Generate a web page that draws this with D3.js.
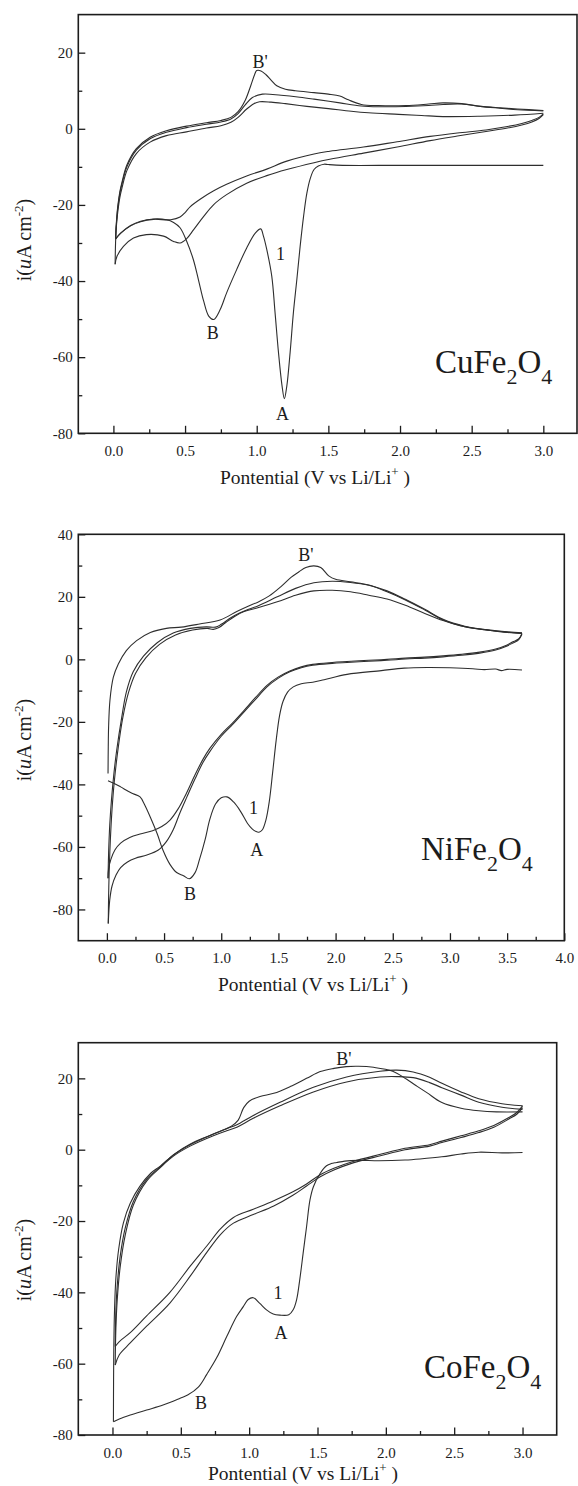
<!DOCTYPE html>
<html><head><meta charset="utf-8">
<script src="https://cdn.jsdelivr.net/npm/d3@7"></script>
<style>body{margin:0;background:#fff}svg{display:block}</style>
</head><body>
<svg id="chart" width="578" height="1486"></svg>
<script>
// ---------------- DATA (potential V vs Li/Li+, current uA cm-2) ----------------
// Tick values
const xTicksCu = [0, 0.5, 1.0, 1.5, 2.0, 2.5, 3.0];
const xTicksNi = [0, 0.5, 1.0, 1.5, 2.0, 2.5, 3.0, 3.5, 4.0];
const xTicksCo = [0, 0.5, 1.0, 1.5, 2.0, 2.5, 3.0];
const yTicksCu = [-80, -60, -40, -20, 0, 20];
const yTicksNi = [-80, -60, -40, -20, 0, 20, 40];
const yTicksCo = [-80, -60, -40, -20, 0, 20];

// CuFe2O4
const cuCycle1 = [[3.0,-9.6],[2.5,-9.6],[2.0,-9.6],[1.6,-9.6],[1.5,-9.4],[1.47,-9.3],[1.43,-9.8],[1.40,-10.7],[1.375,-12.9],[1.35,-16.9],[1.327,-23],[1.303,-30.9],[1.28,-39.6],[1.256,-48.3],[1.233,-58.8],[1.21,-67.6],[1.193,-70.9],[1.177,-67.6],[1.152,-58.8],[1.128,-48.3],[1.105,-38.7],[1.07,-31.7],[1.047,-28.2],[1.028,-26.3],[0.99,-27.4],[0.93,-31.3],[0.86,-37],[0.79,-43.1],[0.745,-47.5],[0.70,-50.1],[0.665,-49.2],[0.63,-45.3],[0.593,-39.6],[0.558,-34.4],[0.512,-29.6],[0.465,-26.0],[0.42,-24.6],[0.37,-23.9],[0.28,-23.7],[0.19,-24.3],[0.12,-25.4],[0.05,-27.4],[0.015,-28.9]];
const cuCath2 = [[3.0,3.9],[2.97,3.0],[2.92,2.2],[2.85,1.4],[2.75,0.6],[2.6,-0.3],[2.4,-1.1],[2.21,-2.0],[1.98,-3.4],[1.745,-4.8],[1.51,-5.9],[1.40,-6.6],[1.21,-8.5],[1.07,-10.6],[0.93,-12.4],[0.79,-14.6],[0.70,-16.3],[0.605,-18.5],[0.535,-20.5],[0.50,-22.0],[0.465,-23.2],[0.40,-23.9],[0.28,-23.8],[0.19,-24.4],[0.12,-25.5],[0.05,-27.5],[0.015,-29.0]];
const cuCath3 = [[3.0,3.7],[2.97,2.7],[2.92,1.8],[2.85,1.0],[2.75,0.2],[2.6,-0.7],[2.4,-1.9],[2.21,-3.1],[1.98,-4.8],[1.745,-6.4],[1.51,-8.0],[1.40,-8.9],[1.21,-10.7],[1.07,-12.3],[0.93,-14.3],[0.79,-17.3],[0.70,-19.9],[0.63,-23.0],[0.56,-26.5],[0.51,-28.9],[0.465,-30.0],[0.42,-29.6],[0.35,-28.2],[0.23,-27.8],[0.14,-28.7],[0.07,-30.9],[0.025,-33.5],[0.012,-35.6]];
const cuAnod1 = [[0.015,-28.9],[0.02,-25],[0.03,-20.5],[0.045,-16.5],[0.06,-14.0],[0.094,-9.5],[0.16,-5.2],[0.256,-2.2],[0.37,-0.5],[0.51,0.7],[0.65,1.6],[0.75,2.2],[0.82,3.0],[0.87,4.5],[0.92,7.5],[0.96,11.5],[0.985,14.2],[1.0,15.3],[1.03,15.2],[1.065,14.2],[1.1,12.8],[1.14,11.3],[1.2,10.4],[1.27,10.0],[1.4,9.5],[1.5,9.1],[1.58,8.6],[1.64,7.6],[1.73,6.4],[1.85,6.1],[2.04,6.1],[2.2,6.5],[2.3,6.8],[2.43,6.6],[2.56,5.9],[2.7,5.4],[2.82,5.0],[3.0,4.7]];
const cuAnod2 = [[0.015,-29],[0.02,-25.5],[0.03,-21],[0.045,-17],[0.06,-14.5],[0.094,-10],[0.16,-5.6],[0.256,-2.6],[0.37,-0.9],[0.51,0.3],[0.65,1.2],[0.75,1.8],[0.82,2.6],[0.87,4.0],[0.92,6.3],[0.97,8.2],[1.04,9.1],[1.17,8.8],[1.3,8.3],[1.4,7.8],[1.58,6.8],[1.73,6.0],[1.85,5.8],[2.04,5.85],[2.2,6.1],[2.3,6.4],[2.43,6.5],[2.56,5.9],[2.7,5.5],[2.82,5.2],[3.0,4.8]];
const cuAnod3 = [[0.012,-35.6],[0.015,-30],[0.02,-26],[0.03,-22],[0.045,-18],[0.06,-15.5],[0.094,-11],[0.16,-6.5],[0.256,-3.5],[0.37,-1.8],[0.51,-0.8],[0.65,0.2],[0.75,0.8],[0.82,1.7],[0.87,3.0],[0.93,5.2],[0.98,6.6],[1.02,7.1],[1.1,7.0],[1.2,6.6],[1.35,5.9],[1.5,5.3],[1.66,4.6],[1.78,4.2],[1.99,3.8],[2.15,3.5],[2.3,3.2],[2.56,3.3],[2.8,3.6],[3.0,4.1]];

// NiFe2O4
const niCycle1 = [[3.63,-3.4],[3.5,-3.2],[3.45,-3.6],[3.4,-3.1],[3.3,-3.3],[3.2,-3.0],[3.0,-2.7],[2.8,-2.6],[2.6,-2.8],[2.4,-3.6],[2.1,-4.8],[1.9,-6.5],[1.8,-7.3],[1.7,-7.8],[1.63,-8.8],[1.58,-10.5],[1.54,-13.5],[1.51,-18],[1.48,-26],[1.45,-36],[1.42,-45.5],[1.39,-51.5],[1.36,-54.5],[1.33,-55.3],[1.3,-55],[1.27,-54.2],[1.23,-52.5],[1.17,-48.7],[1.11,-45.7],[1.05,-44.0],[1.0,-44.3],[0.95,-46.3],[0.90,-51.2],[0.86,-57.5],[0.81,-64.0],[0.77,-68.3],[0.72,-70.2],[0.67,-69.2],[0.61,-68.2],[0.55,-65.5],[0.49,-61],[0.44,-55.8],[0.38,-50.5],[0.33,-46.5],[0.29,-44.0],[0.23,-43],[0.19,-42.3],[0.12,-40.8],[0.06,-39.6],[0.01,-38.8]];
const niCath2 = [[3.63,8.3],[3.6,6.5],[3.55,5.6],[3.5,4.6],[3.4,3.3],[3.26,2.3],[3.1,1.6],[2.94,1.1],[2.78,0.7],[2.61,0.4],[2.45,0.0],[2.29,-0.3],[2.1,-0.7],[1.97,-1.0],[1.8,-1.6],[1.7,-2.4],[1.6,-3.7],[1.5,-5.6],[1.4,-8.3],[1.3,-12.2],[1.2,-16.3],[1.1,-20.3],[1.0,-24.0],[0.9,-28.5],[0.84,-32],[0.77,-37],[0.7,-42.5],[0.62,-48],[0.55,-51.5],[0.48,-53.5],[0.4,-54.8],[0.3,-55.8],[0.2,-57],[0.12,-58.8],[0.07,-61],[0.035,-64],[0.015,-67],[0.01,-70]];
const niCath3 = [[3.63,8.0],[3.6,6.2],[3.55,5.2],[3.5,4.3],[3.4,3.0],[3.26,2.0],[3.1,1.3],[2.94,0.8],[2.78,0.4],[2.61,0.1],[2.45,-0.3],[2.29,-0.6],[2.1,-1.0],[1.97,-1.3],[1.8,-1.9],[1.7,-2.7],[1.6,-4.0],[1.5,-6.0],[1.4,-8.8],[1.3,-12.8],[1.2,-16.8],[1.1,-20.8],[1.0,-24.6],[0.9,-29.5],[0.84,-33],[0.77,-38.3],[0.7,-44],[0.64,-49],[0.58,-54.5],[0.52,-58.3],[0.45,-61],[0.35,-62.6],[0.25,-63.6],[0.18,-64.8],[0.12,-66.6],[0.08,-69],[0.045,-72.5],[0.025,-77],[0.012,-84.5]];
const niAnod1 = [[0.01,-36.5],[0.012,-28],[0.015,-21.6],[0.027,-13],[0.056,-5.8],[0.10,-1.5],[0.17,2.8],[0.26,6.0],[0.38,8.6],[0.52,9.9],[0.65,10.3],[0.81,11.3],[0.99,12.6],[1.14,15.4],[1.24,17.1],[1.32,18.3],[1.42,20.3],[1.52,23.2],[1.61,26.2],[1.68,28.0],[1.74,29.4],[1.81,29.9],[1.87,29.4],[1.94,26.7],[2.0,25.6],[2.13,24.8],[2.29,23.8],[2.45,21.6],[2.61,19.0],[2.78,15.8],[2.94,12.6],[3.13,10.4],[3.32,9.4],[3.5,8.7],[3.63,8.3]];
const niAnod2 = [[0.01,-70],[0.015,-62],[0.025,-53],[0.04,-45],[0.06,-37],[0.086,-29],[0.13,-18.5],[0.17,-10.5],[0.23,-4],[0.32,1.0],[0.44,5.3],[0.58,8.4],[0.73,9.9],[0.87,10.4],[0.95,10.3],[1.0,11.2],[1.08,13.2],[1.16,14.8],[1.24,16.0],[1.32,17.1],[1.49,20.0],[1.65,22.7],[1.81,24.5],[1.97,25.0],[2.13,24.6],[2.29,23.7],[2.45,21.9],[2.61,19.2],[2.78,16.0],[2.94,12.8],[3.13,10.6],[3.32,9.5],[3.5,8.8],[3.63,8.5]];
const niAnod3 = [[0.012,-84.5],[0.015,-76],[0.02,-68],[0.03,-58],[0.045,-48],[0.065,-39],[0.1,-28],[0.14,-18.5],[0.19,-10.5],[0.25,-4.5],[0.34,0.5],[0.46,4.8],[0.6,7.8],[0.75,9.4],[0.88,9.9],[0.93,9.6],[0.98,10.2],[1.04,11.8],[1.12,13.8],[1.2,15.3],[1.32,16.5],[1.49,18.4],[1.65,20.5],[1.81,21.9],[1.97,22.1],[2.13,21.6],[2.29,20.5],[2.45,19.3],[2.61,17.3],[2.78,14.7],[2.94,12.4],[3.13,10.4],[3.32,9.4],[3.5,8.6],[3.63,8.3]];

// CoFe2O4
const coCycle1 = [[3.0,-0.8],[2.85,-0.9],[2.68,-0.7],[2.55,-1.2],[2.41,-2.0],[2.25,-2.6],[2.14,-2.9],[1.95,-3.1],[1.8,-3.0],[1.7,-3.2],[1.64,-3.6],[1.6,-3.9],[1.566,-4.5],[1.52,-6.6],[1.47,-10.4],[1.445,-14.1],[1.42,-21.6],[1.395,-29],[1.37,-36.5],[1.347,-42.1],[1.322,-44.9],[1.29,-46.3],[1.225,-46.4],[1.176,-46.1],[1.127,-44.9],[1.078,-43.1],[1.03,-41.5],[0.993,-42],[0.957,-44],[0.908,-46.8],[0.836,-52.4],[0.763,-58.3],[0.69,-63],[0.63,-66.5],[0.55,-68.8],[0.495,-69.7],[0.37,-71.6],[0.25,-73],[0.13,-74.4],[0.05,-75.5],[0.007,-76.3]];
const coCath2 = [[3.0,12.3],[2.96,10.5],[2.9,9.0],[2.79,6.8],[2.68,5.3],[2.55,3.9],[2.41,2.4],[2.32,1.4],[2.14,0.4],[1.96,-1.3],[1.76,-3.3],[1.62,-5.2],[1.52,-7.0],[1.42,-9.6],[1.32,-11.8],[1.18,-14.3],[1.03,-16.7],[0.885,-19.0],[0.79,-22.2],[0.69,-27.0],[0.57,-32.6],[0.42,-40.0],[0.25,-46.6],[0.13,-51.3],[0.05,-53.8],[0.02,-55.2]];
const coCath3 = [[3.0,11.8],[2.96,10.0],[2.9,8.6],[2.79,6.3],[2.68,4.8],[2.55,3.4],[2.41,2.0],[2.32,1.0],[2.14,0.0],[1.96,-1.7],[1.76,-3.7],[1.62,-5.7],[1.52,-7.6],[1.42,-10.2],[1.32,-12.8],[1.18,-15.8],[1.03,-18.2],[0.885,-20.6],[0.79,-23.8],[0.69,-28.8],[0.57,-35.4],[0.42,-43.0],[0.25,-49.5],[0.13,-54.2],[0.05,-57.5],[0.02,-60.4]];
const coAnod1 = [[0.007,-76.3],[0.008,-65],[0.01,-55],[0.015,-45],[0.025,-36],[0.045,-28],[0.08,-20.5],[0.13,-15],[0.2,-10.3],[0.28,-6.6],[0.35,-4.6],[0.45,-1.3],[0.57,1.6],[0.7,3.8],[0.8,5.4],[0.87,6.6],[0.92,8.3],[0.96,11.8],[1.0,13.6],[1.08,14.9],[1.18,15.8],[1.3,17.7],[1.42,20.0],[1.52,21.9],[1.62,22.8],[1.71,23.3],[1.8,23.4],[1.91,23.1],[2.05,22.0],[2.15,19.8],[2.22,18.0],[2.3,16.0],[2.41,13.2],[2.55,11.6],[2.68,10.9],[2.81,10.6],[3.0,10.6]];
const coAnod2 = [[0.02,-55.2],[0.025,-45],[0.035,-38],[0.056,-30],[0.093,-22],[0.153,-14.5],[0.25,-8.3],[0.35,-4.8],[0.446,-1.5],[0.568,1.4],[0.738,4.4],[0.836,5.9],[0.91,7.0],[1.03,9.6],[1.226,13.3],[1.47,17.5],[1.713,20.4],[1.957,22.0],[2.08,22.3],[2.2,21.8],[2.32,20.3],[2.41,18.6],[2.55,16.2],[2.68,14.3],[2.85,12.9],[3.0,12.3]];
const coAnod3 = [[0.02,-60.4],[0.025,-50],[0.035,-42],[0.056,-33],[0.093,-24],[0.153,-15.5],[0.25,-8.8],[0.35,-5.0],[0.446,-1.8],[0.568,1.0],[0.738,3.9],[0.836,5.3],[0.91,6.3],[1.03,8.8],[1.226,12.3],[1.47,16.2],[1.713,19.0],[1.957,20.4],[2.08,20.5],[2.2,20.2],[2.32,18.8],[2.41,17.4],[2.55,15.3],[2.68,13.3],[2.85,11.9],[3.0,11.3]];

// Peak annotations [text, V, i]
const cuPeaks = [["B'",1.023,17.6],["B",0.693,-53.7],["A",1.18,-74.9],["1",1.166,-32.7]];
const niPeaks = [["B'",1.741,33.4],["1",1.282,-47.6],["A",1.31,-60.9],["B",0.727,-75.1]];
const coPeaks = [["B'",1.693,25.4],["1",1.211,-40.2],["A",1.233,-51.4],["B",0.647,-71.0]];

// ---------------- LAYOUT ----------------
const FONT = '"Liberation Serif","Times New Roman",Times,serif';
const INK = '#1c1c1c';
const LINE = '#2e2e2e';
const panels = [
  {xDomain:[-0.245,3.235], xRange:[78.3,577], yDomain:[-80,30], yRange:[433.3,14.6],
   xTicks:xTicksCu, yTicks:yTicksCu, series:[cuCycle1,cuCath2,cuCath3,cuAnod1,cuAnod2,cuAnod3],
   peaks:cuPeaks, compound:["CuFe","2","O","4"], compX:435, compY:373, xTitleX:315, xTitleY:484, yTitleY:240},
  {xDomain:[-0.25,4.0], xRange:[78.3,564.3], yDomain:[-90,40], yRange:[940.7,534.3],
   xTicks:xTicksNi, yTicks:yTicksNi, series:[niCycle1,niCath2,niCath3,niAnod1,niAnod2,niAnod3],
   peaks:niPeaks, compound:["NiFe","2","O","4"], compX:421, compY:860, xTitleX:313, xTitleY:991, yTitleY:740},
  {xDomain:[-0.25,3.25], xRange:[78.3,556.7], yDomain:[-80,30], yRange:[1435,1042.7],
   xTicks:xTicksCo, yTicks:yTicksCo, series:[coCycle1,coCath2,coCath3,coAnod1,coAnod2,coAnod3],
   peaks:coPeaks, compound:["CoFe","2","O","4"], compX:424, compY:1378, xTitleX:303, xTitleY:1480, yTitleY:1260}
];

const svg = d3.select('#chart');

function minorBetween(ticks) {
  const out = [];
  for (let i = 0; i < ticks.length - 1; i++) out.push((ticks[i] + ticks[i+1]) / 2);
  return out;
}

panels.forEach(p => {
  const x = d3.scaleLinear().domain(p.xDomain).range(p.xRange);
  const y = d3.scaleLinear().domain(p.yDomain).range(p.yRange);
  const g = svg.append('g');
  const bottom = p.yRange[0], top = p.yRange[1], left = p.xRange[0], right = p.xRange[1];

  // curves
  const line = d3.line().x(d => x(d[0])).y(d => y(d[1])).curve(d3.curveCatmullRom.alpha(0.5));
  p.series.forEach(s => g.append('path').attr('d', line(s))
    .attr('fill','none').attr('stroke',LINE).attr('stroke-width',1.1).attr('stroke-linejoin','round'));

  // x axis minor + major (ticks inward)
  const xMinor = minorBetween(p.xTicks).filter(v => v < p.xDomain[1]);
  const gxm = g.append('g').attr('transform',`translate(0,${bottom})`)
    .call(d3.axisBottom(x).tickValues(xMinor).tickSize(-4).tickFormat(''));
  const gx = g.append('g').attr('transform',`translate(0,${bottom})`)
    .call(d3.axisBottom(x).tickValues(p.xTicks).tickSize(-7.5).tickPadding(12).tickFormat(d3.format('.1f')));
  // y axis
  const yMinor = minorBetween(p.yTicks);
  const gym = g.append('g').attr('transform',`translate(${left},0)`)
    .call(d3.axisLeft(y).tickValues(yMinor).tickSize(-4).tickFormat(''));
  const gy = g.append('g').attr('transform',`translate(${left},0)`)
    .call(d3.axisLeft(y).tickValues(p.yTicks).tickSize(-7).tickPadding(5.5).tickFormat(d => String(d)));
  [gxm,gx,gym,gy].forEach(a => {
    a.select('.domain').remove();
    a.selectAll('line').attr('stroke',INK).attr('stroke-width',1.3);
    a.selectAll('text').attr('font-family',FONT).attr('font-size',15).attr('fill',INK);
  });

  // frame
  g.append('rect').attr('x',left).attr('y',top).attr('width',right-left).attr('height',bottom-top)
    .attr('fill','none').attr('stroke',INK).attr('stroke-width',1.6);

  // peak labels
  p.peaks.forEach(([t,v,i]) => g.append('text').attr('x',x(v)).attr('y',y(i)).attr('dy','0.35em')
    .attr('text-anchor','middle').attr('font-family',FONT).attr('font-size',18).attr('fill',INK).text(t));

  // compound label
  const ct = g.append('text').attr('x',p.compX).attr('y',p.compY).attr('font-family',FONT).attr('font-size',33).attr('fill',INK);
  ct.append('tspan').text(p.compound[0]);
  ct.append('tspan').attr('font-size',22).attr('dy',11).text(p.compound[1]);
  ct.append('tspan').attr('dy',-11).text(p.compound[2]);
  ct.append('tspan').attr('font-size',22).attr('dy',11).text(p.compound[3]);

  // x title
  const xt = g.append('text').attr('x',p.xTitleX).attr('y',p.xTitleY).attr('text-anchor','middle')
    .attr('font-family',FONT).attr('font-size',19.5).attr('fill',INK);
  xt.append('tspan').text('Pontential (V vs Li/Li');
  xt.append('tspan').attr('font-size',13).attr('dy',-8).text('+');
  xt.append('tspan').attr('dy',8).text(' )');

  // y title
  const yt = g.append('text').attr('transform',`translate(24,${p.yTitleY}) rotate(-90)`).attr('text-anchor','middle')
    .attr('dy','0.35em').attr('font-family',FONT).attr('font-size',20).attr('fill',INK);
  yt.append('tspan').text('i(');
  yt.append('tspan').attr('font-style','italic').text('u');
  yt.append('tspan').text('A cm');
  yt.append('tspan').attr('font-size',13).attr('dy',-8).text('-2');
  yt.append('tspan').attr('dy',8).text(')');
});
</script>
</body></html>
